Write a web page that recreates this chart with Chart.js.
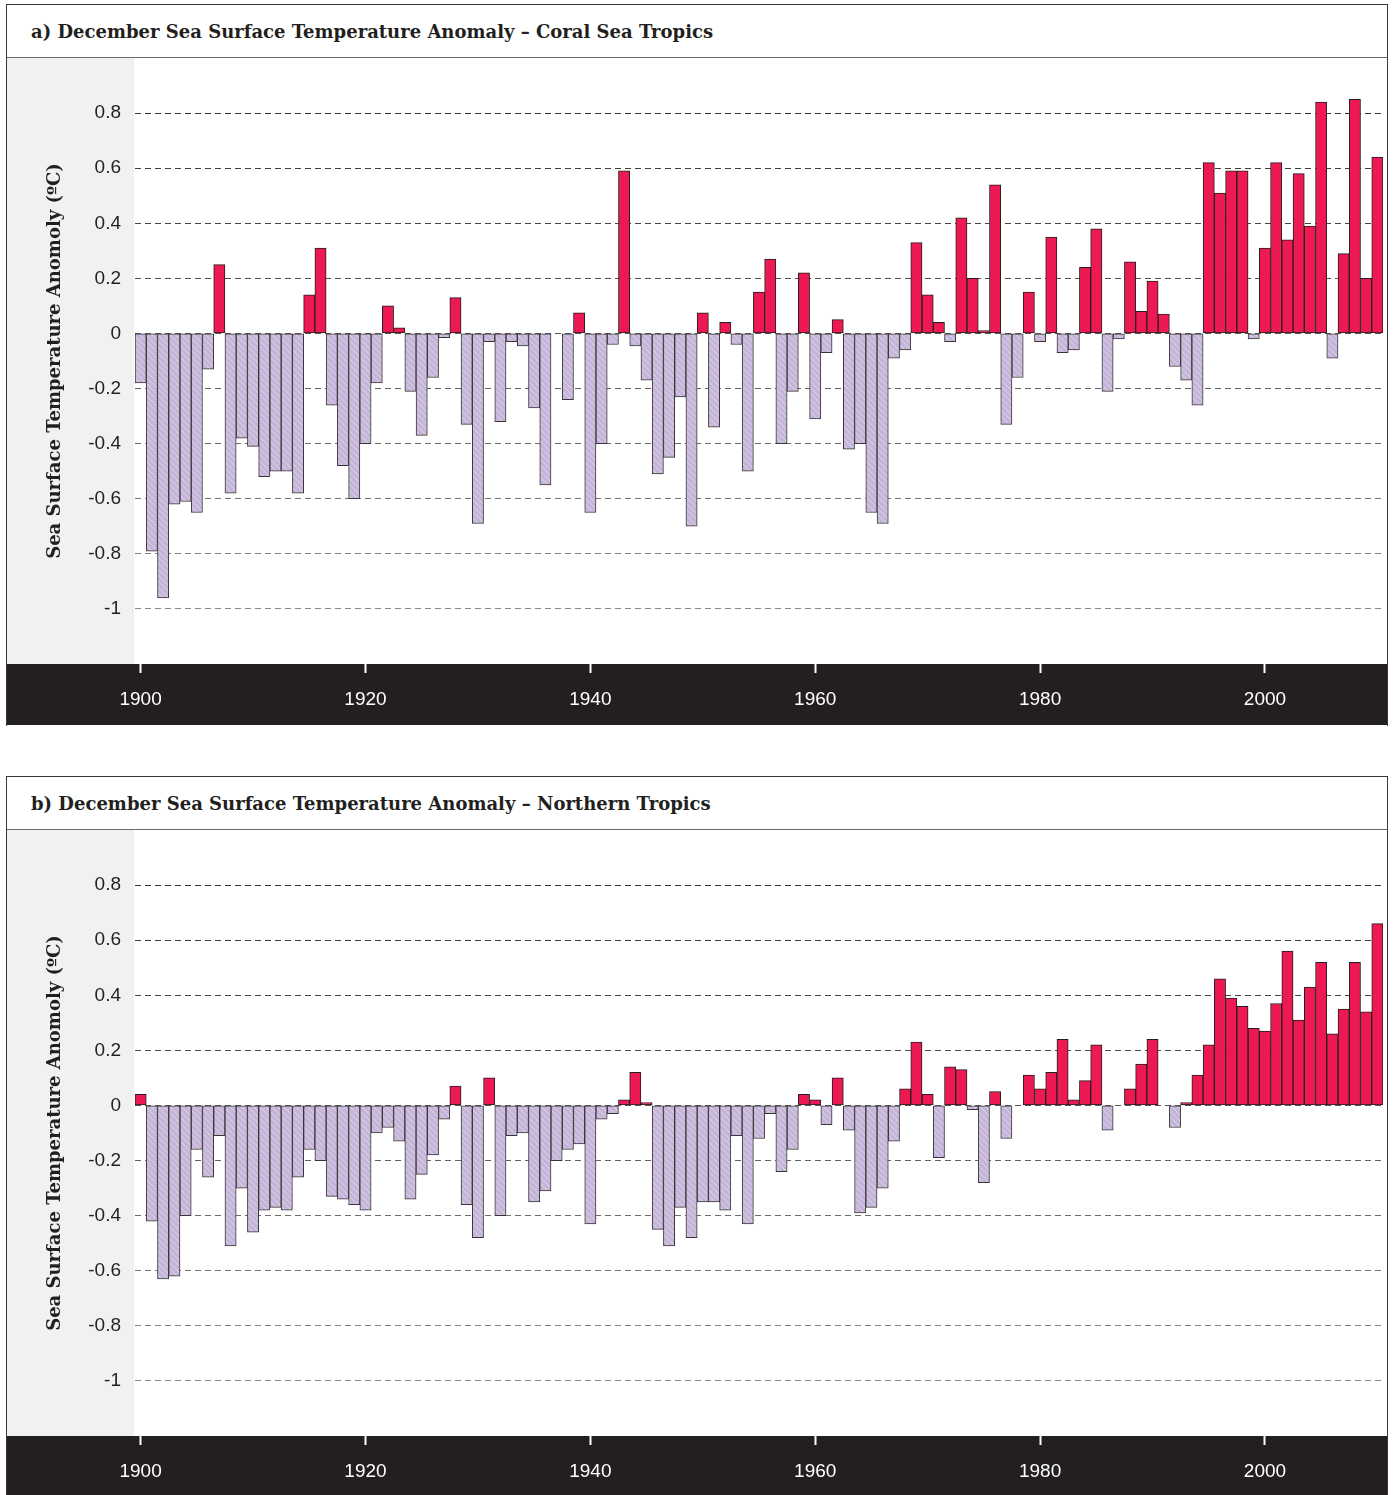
<!DOCTYPE html>
<html>
<head>
<meta charset="utf-8">
<script src="https://cdn.jsdelivr.net/npm/chart.js@4/dist/chart.umd.min.js"></script>
<style>
  html, body { margin: 0; padding: 0; background: #fff; overflow: hidden; }
  .panel {
    position: absolute; left: 6px; width: 1382px; height: 722px;
    box-sizing: border-box; border: 1px solid #3b3838; border-bottom: none;
    background: #fff;
  }
  .panel .head {
    position: absolute; left: 0; top: 0; right: 0; height: 52px;
    border-bottom: 1px solid #6d6a6a;
    font: bold 18px "DejaVu Serif", serif; color: #231f20;
    line-height: 53px; padding-left: 24px; white-space: nowrap;
  }
  .panel canvas { position: absolute; left: 0; top: 53px; }
</style>
</head>
<body>
<div class="panel" style="top:4px">
  <div class="head">a) December Sea Surface Temperature Anomaly – Coral Sea Tropics</div>
  <canvas id="coral" width="1380" height="667"></canvas>
</div>
<div class="panel" style="top:776px">
  <div class="head">b) December Sea Surface Temperature Anomaly – Northern Tropics</div>
  <canvas id="north" width="1380" height="667"></canvas>
</div>
<script>
// December SST anomalies (°C), one value per year from 1900 to 2010; null = no bar
const years = Array.from({ length: 111 }, (_, i) => String(1900 + i));

const coralSea = [
  -0.18, -0.79, -0.96, -0.62, -0.61, -0.65, -0.13, 0.25, -0.58, -0.38,   // 1900s
  -0.41, -0.52, -0.50, -0.50, -0.58, 0.14, 0.31, -0.26, -0.48, -0.60,    // 1910s
  -0.40, -0.18, 0.10, 0.02, -0.21, -0.37, -0.16, -0.015, 0.13, -0.33,    // 1920s
  -0.69, -0.03, -0.32, -0.03, -0.045, -0.27, -0.55, null, -0.24, 0.075,  // 1930s
  -0.65, -0.40, -0.04, 0.59, -0.045, -0.17, -0.51, -0.45, -0.23, -0.70,  // 1940s
  0.075, -0.34, 0.04, -0.04, -0.50, 0.15, 0.27, -0.40, -0.21, 0.22,      // 1950s
  -0.31, -0.07, 0.05, -0.42, -0.40, -0.65, -0.69, -0.09, -0.06, 0.33,    // 1960s
  0.14, 0.04, -0.03, 0.42, 0.20, 0.01, 0.54, -0.33, -0.16, 0.15,         // 1970s
  -0.03, 0.35, -0.07, -0.06, 0.24, 0.38, -0.21, -0.02, 0.26, 0.08,       // 1980s
  0.19, 0.07, -0.12, -0.17, -0.26, 0.62, 0.51, 0.59, 0.59, -0.02,        // 1990s
  0.31, 0.62, 0.34, 0.58, 0.39, 0.84, -0.09, 0.29, 0.85, 0.20,           // 2000s
  0.64                                                                    // 2010
];

const northernTropics = [
  0.04, -0.42, -0.63, -0.62, -0.40, -0.16, -0.26, -0.11, -0.51, -0.30,   // 1900s
  -0.46, -0.38, -0.37, -0.38, -0.26, -0.16, -0.20, -0.33, -0.34, -0.36,  // 1910s
  -0.38, -0.10, -0.08, -0.13, -0.34, -0.25, -0.18, -0.05, 0.07, -0.36,   // 1920s
  -0.48, 0.10, -0.40, -0.11, -0.10, -0.35, -0.31, -0.20, -0.16, -0.14,   // 1930s
  -0.43, -0.05, -0.03, 0.02, 0.12, 0.01, -0.45, -0.51, -0.37, -0.48,     // 1940s
  -0.35, -0.35, -0.38, -0.11, -0.43, -0.12, -0.03, -0.24, -0.16, 0.04,   // 1950s
  0.02, -0.07, 0.10, -0.09, -0.39, -0.37, -0.30, -0.13, 0.06, 0.23,      // 1960s
  0.04, -0.19, 0.14, 0.13, -0.015, -0.28, 0.05, -0.12, null, 0.11,       // 1970s
  0.06, 0.12, 0.24, 0.02, 0.09, 0.22, -0.09, null, 0.06, 0.15,           // 1980s
  0.24, null, -0.08, 0.01, 0.11, 0.22, 0.46, 0.39, 0.36, 0.28,           // 1990s
  0.27, 0.37, 0.56, 0.31, 0.43, 0.52, 0.26, 0.35, 0.52, 0.34,            // 2000s
  0.66                                                                    // 2010
];

const yTicks = [-1, -0.8, -0.6, -0.4, -0.2, 0, 0.2, 0.4, 0.6, 0.8];
const xTickYears = ['1900', '1920', '1940', '1960', '1980', '2000'];
const yTitle = 'Sea Surface Temperature Anomoly (ºC)';

const WARM = '#ec1952';
const INK = '#231f20';

// light lavender fill with fine white diagonal hatching for cool years
function hatchPattern() {
  const t = document.createElement('canvas');
  t.width = 6; t.height = 6;
  const g = t.getContext('2d');
  g.fillStyle = '#c5b6d9';
  g.fillRect(0, 0, 6, 6);
  g.strokeStyle = 'rgba(255,255,255,0.42)';
  g.lineWidth = 1;
  g.beginPath();
  g.moveTo(0, 0); g.lineTo(6, 6);
  g.moveTo(-1, 5); g.lineTo(1, 7);
  g.moveTo(5, -1); g.lineTo(7, 1);
  g.stroke();
  return g.createPattern(t, 'repeat');
}
const COOL = hatchPattern();

// gridlines fade from dark at the top to mid grey at the bottom
function gridShade(v) {
  const k = Math.round(51 + (0.8 - v) / 1.8 * 85);
  return `rgb(${k},${k},${k})`;
}

const panelBackdrop = {
  id: 'panelBackdrop',
  beforeDraw(chart) {
    const { ctx, chartArea: a, width, height } = chart;
    ctx.save();
    ctx.fillStyle = '#ffffff';
    ctx.fillRect(0, 0, width, height);
    ctx.fillStyle = '#f1f1f1';
    ctx.fillRect(0, a.top, a.left - 1, a.bottom - a.top);
    ctx.fillStyle = INK;
    ctx.fillRect(0, a.bottom, width, height - a.bottom);
    ctx.restore();
  }
};

function anomalyChart(id, values) {
  return new Chart(document.getElementById(id), {
    type: 'bar',
    data: {
      labels: years,
      datasets: [{
        data: values,
        backgroundColor: c => (c.raw >= 0 ? WARM : COOL),
        borderColor: c => (c.raw >= 0 ? INK : '#3a3436'),
        borderWidth: 1,
        borderSkipped: false,
        barPercentage: 1,
        categoryPercentage: 1
      }]
    },
    options: {
      responsive: false,
      animation: false,
      events: [],
      layout: { padding: { left: 0, right: 4, top: 0, bottom: 0 } },
      plugins: { legend: { display: false }, tooltip: { enabled: false } },
      scales: {
        x: {
          type: 'category',
          afterBuildTicks: s => { s.ticks = s.ticks.filter(t => xTickYears.includes(years[t.value])); },
          afterFit: s => { s.height = 61; s.paddingLeft = 0; s.paddingRight = 0; },
          grid: {
            display: true, drawOnChartArea: false, drawTicks: true, offset: false,
            tickLength: 9, tickWidth: 2, tickColor: '#ffffff'
          },
          border: { display: false },
          ticks: {
            autoSkip: false, maxRotation: 0, minRotation: 0,
            color: '#ffffff', padding: 15,
            font: { family: 'Liberation Sans', size: 19 }
          }
        },
        y: {
          min: -1.2,
          max: 1.0,
          afterBuildTicks: s => { s.ticks = yTicks.map(v => ({ value: v })); },
          afterFit: s => { s.width = 128; s.paddingTop = 0; s.paddingBottom = 0; },
          grid: { color: c => gridShade(c.tick.value), lineWidth: 1, drawTicks: false },
          border: { display: false, dash: [6, 4] },
          ticks: {
            color: INK, padding: 14,
            font: { family: 'Liberation Sans', size: 19 },
            callback: v => String(Math.round(v * 10) / 10)
          },
          title: {
            display: true, text: yTitle, color: INK,
            font: { family: 'DejaVu Serif', weight: 'bold', size: 18 },
            padding: { top: 38, bottom: 0 }
          }
        }
      }
    },
    plugins: [panelBackdrop]
  });
}

anomalyChart('coral', coralSea);
anomalyChart('north', northernTropics);
</script>
</body>
</html>
